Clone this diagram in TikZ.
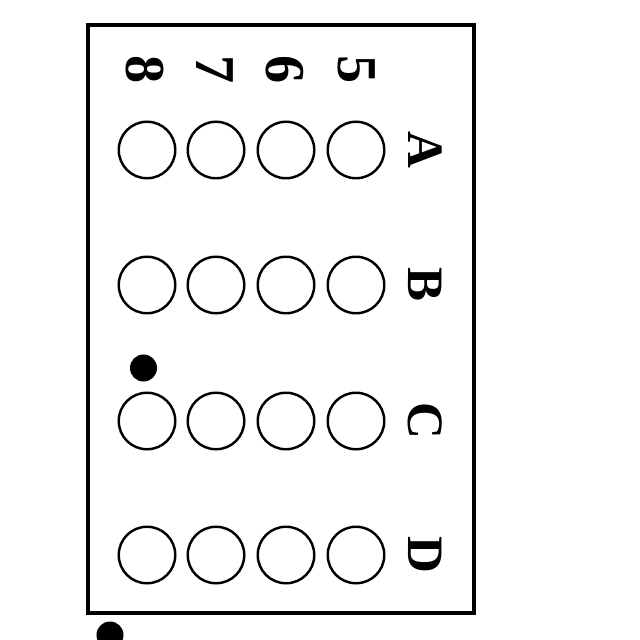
\documentclass[tikz,border=0pt]{standalone}
\usepackage{fontspec}
\setmainfont{Liberation Serif}
\begin{document}
\begin{tikzpicture}[x=0.01cm,y=-0.01cm,
  hole/.style={draw,circle,line width=0.7pt,minimum size=0.565cm,inner sep=0pt},
  lbl/.style={font=\fontsize{14.5}{14.5}\selectfont\bfseries,rotate=-90,inner sep=0pt},
  numlbl/.style={lbl,font=\fontsize{16}{16}\selectfont\bfseries},
  spot/.style={circle,fill,minimum size=0.27cm,inner sep=0pt}]
  \useasboundingbox (0,0) rectangle (640,640);
  % frame
  \draw[line width=0.9pt] (88,25) rectangle (474,613);
  % column numbers
  \foreach \n/\x in {8/145,7/215,6/285,5/357}
    \node[numlbl] (num\n) at (\x,70) {\n};
  % rows of holes
  \foreach \r/\y in {A/150,B/285,C/421,D/555} {
    \node[lbl] (row\r) at (425,\y) {\r};
    \foreach \n/\x in {8/147,7/216,6/286,5/356}
      \node[hole] (\r\n) at (\x,\y) {};
  }
  % spots
  \node[spot] (spot1) at (143.5,368) {};
  \node[spot] (spot2) at (110,635) {};
\end{tikzpicture}
\end{document}
